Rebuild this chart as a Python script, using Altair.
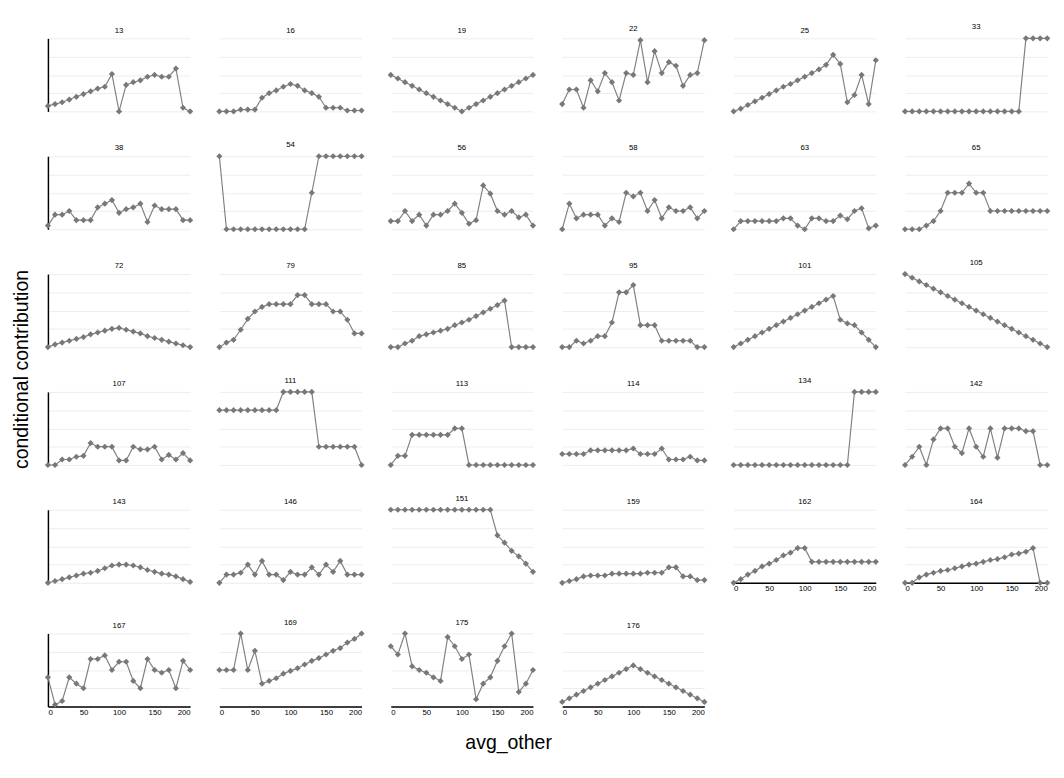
import altair as alt
import pandas as pd

xs = list(range(0, 201, 10))
ids = [13,16,19,22,25,33,38,54,56,58,63,65,72,79,85,95,101,105,107,111,113,114,134,142,143,146,151,159,162,164,167,169,175,176]
s13 = [0.3,0.4,0.5,0.65,0.8,0.95,1.1,1.25,1.35,2.05,0,1.45,1.6,1.7,1.9,2.0,1.9,1.9,2.35,0.2,0.0]
s16 = [0,0,0,0.1,0.1,0.1,0.75,1.0,1.15,1.35,1.5,1.4,1.15,1.0,0.8,0.2,0.2,0.2,0.05,0.05,0.05]
s19 = [2.0,1.8,1.6,1.4,1.2,1.0,0.8,0.6,0.4,0.2,0,0.2,0.4,0.6,0.8,1.0,1.2,1.4,1.6,1.8,2.0]
s22 = [0.4,1.2,1.2,0.2,1.7,1.1,2.1,1.6,0.6,2.1,2.0,3.9,1.6,3.3,2.1,2.7,2.5,1.4,2.0,2.1,3.9]
s25 = [0,0.15,0.35,0.55,0.75,0.95,1.15,1.35,1.5,1.7,1.9,2.1,2.3,2.55,3.1,2.6,0.5,0.9,2.0,0.4,2.8]
s33 = [0]*17 + [4]*4
s38 = [0.2,0.8,0.8,1.0,0.5,0.5,0.5,1.2,1.4,1.6,0.9,1.1,1.2,1.4,0.4,1.3,1.1,1.1,1.1,0.5,0.5]
s54 = [4] + [0]*12 + [2.0] + [4]*7
s56 = [0.45,0.45,1.0,0.45,0.8,0.2,0.8,0.8,1.0,1.4,0.9,0.3,0.5,2.4,1.95,1.0,0.8,1.0,0.65,0.8,0.2]
s58 = [0,1.4,0.6,0.8,0.8,0.8,0.2,0.6,0.4,2.0,1.8,2.0,1.0,1.6,0.6,1.2,1.0,1.0,1.2,0.6,1.0]
s63 = [0,0.45,0.45,0.45,0.45,0.45,0.45,0.6,0.6,0.2,0,0.6,0.6,0.45,0.45,0.75,0.55,1.0,1.15,0.05,0.2]
s65 = [0,0,0,0.2,0.45,1.0,2.0,2.0,2.0,2.5,2.0,2.0] + [1.0]*9
s72 = [0,0.15,0.25,0.35,0.45,0.55,0.7,0.8,0.9,1.0,1.05,0.95,0.85,0.75,0.6,0.5,0.4,0.3,0.2,0.1,0.0]
s79 = [0,0.25,0.4,0.95,1.55,1.95,2.2,2.35,2.35,2.35,2.35,2.85,2.85,2.35,2.35,2.35,1.95,1.95,1.5,0.75,0.75]
s85 = [0,0,0.2,0.35,0.6,0.7,0.8,0.9,1.0,1.2,1.35,1.5,1.7,1.9,2.1,2.3,2.55,0,0,0,0]
s95 = [0,0,0.35,0.2,0.35,0.6,0.6,1.35,3.0,3.0,3.4,1.2,1.2,1.2,0.35,0.35,0.35,0.35,0.35,0,0]
s101 = [0,0.2,0.4,0.6,0.8,1.0,1.2,1.4,1.6,1.8,2.0,2.2,2.4,2.6,2.8,1.5,1.3,1.2,0.8,0.4,0]
s105 = [4.0,3.8,3.6,3.4,3.2,3.0,2.8,2.6,2.4,2.2,2.0,1.8,1.6,1.4,1.2,1.0,0.8,0.6,0.4,0.2,0.0]
s107 = [0,0,0.3,0.3,0.45,0.5,1.2,1.0,1.0,1.0,0.25,0.25,1.0,0.85,0.85,1.0,0.3,0.55,0.3,0.65,0.25]
s111 = [3]*9 + [4]*5 + [1]*6 + [0]
s113 = [0,0.5,0.5,1.65,1.65,1.65,1.65,1.65,1.65,2.0,2.0] + [0]*10
s114 = [0.6,0.6,0.6,0.6,0.8,0.8,0.8,0.8,0.8,0.8,0.9,0.6,0.6,0.6,0.9,0.3,0.3,0.3,0.45,0.25,0.25]
s134 = [0]*17 + [4]*4
s142 = [0,0.45,1.0,0,1.4,2.0,2.0,1.0,0.65,2.0,1.0,0.45,2.0,0.4,2.0,2.0,2.0,1.85,1.85,0,0]
s143 = [0,0.1,0.2,0.3,0.4,0.5,0.55,0.65,0.8,0.95,1.0,1.0,0.95,0.85,0.7,0.6,0.5,0.45,0.35,0.2,0.05]
s146 = [0,0.45,0.45,0.55,1.0,0.45,1.2,0.45,0.45,0.15,0.6,0.45,0.45,0.85,0.45,1.0,0.6,1.2,0.45,0.45,0.45]
s151 = [4]*15 + [2.6,2.2,1.75,1.45,1.05,0.6]
s159 = [0,0.1,0.2,0.35,0.4,0.4,0.4,0.5,0.5,0.5,0.5,0.5,0.55,0.55,0.55,0.85,0.85,0.35,0.35,0.15,0.15]
s162 = [0,0.2,0.45,0.65,0.9,1.05,1.25,1.5,1.65,1.9,1.9] + [1.15]*10
s164 = [0,0,0.3,0.45,0.55,0.65,0.7,0.8,0.9,1.0,1.05,1.15,1.25,1.3,1.4,1.55,1.6,1.7,1.9,0,0]
s167 = [1.6,0.1,0.3,1.6,1.25,1.0,2.6,2.6,2.8,2.0,2.45,2.45,1.4,1.0,2.6,2.0,1.85,2.0,1.0,2.5,2.0]
s169 = [2,2,2,4,2,3.05,1.25,1.4,1.55,1.8,1.95,2.1,2.3,2.5,2.65,2.85,3.05,3.2,3.5,3.7,4]
s175 = [3.3,2.85,4.0,2.2,2.0,1.85,1.6,1.4,3.8,3.3,2.6,2.85,0.4,1.25,1.6,2.5,3.3,4.0,0.8,1.25,2.0]
s176 = [0.25,0.45,0.65,0.85,1.05,1.25,1.45,1.65,1.85,2.05,2.25,2.05,1.85,1.65,1.45,1.25,1.05,0.85,0.65,0.45,0.25]

series = [s13,s16,s19,s22,s25,s33,s38,s54,s56,s58,s63,s65,s72,s79,s85,s95,s101,s105,
          s107,s111,s113,s114,s134,s142,s143,s146,s151,s159,s162,s164,s167,s169,s175,s176]

NCOL = 6
PW, PH = 146, 75
n = len(ids)


def panel(k):
    pid, s = ids[k], series[k]
    col = k % NCOL
    show_x = (k + NCOL) >= n
    df = pd.DataFrame({"avg_other": xs, "val": s})
    xaxis = (alt.Axis(values=[0, 50, 100, 150, 200], grid=False, ticks=False, labelFontSize=8,
                      labelPadding=2, domainColor="black", domainWidth=1.5, title=None)
             if show_x else alt.Axis(labels=False, ticks=False, domain=False, grid=False, title=None))
    yaxis = alt.Axis(values=[0, 1, 2, 3, 4], labels=False, ticks=False, grid=True,
                     gridColor="#e8eef3", domain=(col == 0), domainColor="black",
                     domainWidth=1.5, title=None)
    base = alt.Chart(df).encode(
        x=alt.X("avg_other:Q", scale=alt.Scale(domain=[0, 200], nice=False), axis=xaxis),
        y=alt.Y("val:Q", scale=alt.Scale(domain=[0, 4], nice=False), axis=yaxis),
    )
    return alt.layer(
        base.mark_line(color="#808080", strokeWidth=1.2),
        base.mark_point(shape="diamond", filled=True, color="#787878", size=40, opacity=1),
    ).properties(width=PW, height=PH,
                 title=alt.TitleParams(str(pid), fontSize=8, fontWeight="normal", offset=4))


rows = []
for r in range(0, n, NCOL):
    rows.append(alt.hconcat(*[panel(k) for k in range(r, min(r + NCOL, n))], spacing=22))
grid = alt.vconcat(*rows, spacing=26)

gw = NCOL * PW + (NCOL - 1) * 22
xt = alt.Chart(pd.DataFrame({"t": ["avg_other"]})).mark_text(fontSize=20, baseline="top").encode(
    text="t:N", x=alt.value(gw / 2 - 20), y=alt.value(12)).properties(width=gw, height=34)
yt = alt.Chart(pd.DataFrame({"t": ["conditional contribution"]})).mark_text(
    fontSize=20, angle=270, baseline="top").encode(
    text="t:N", x=alt.value(0), y=alt.value(340)).properties(width=24, height=660)

chart = alt.hconcat(yt, alt.vconcat(grid, xt, spacing=6), spacing=8).configure(
    font="Liberation Sans", view=alt.ViewConfig(stroke="transparent", strokeWidth=0))

chart.save("out.html", embed_options={"renderer": "svg", "actions": False})
